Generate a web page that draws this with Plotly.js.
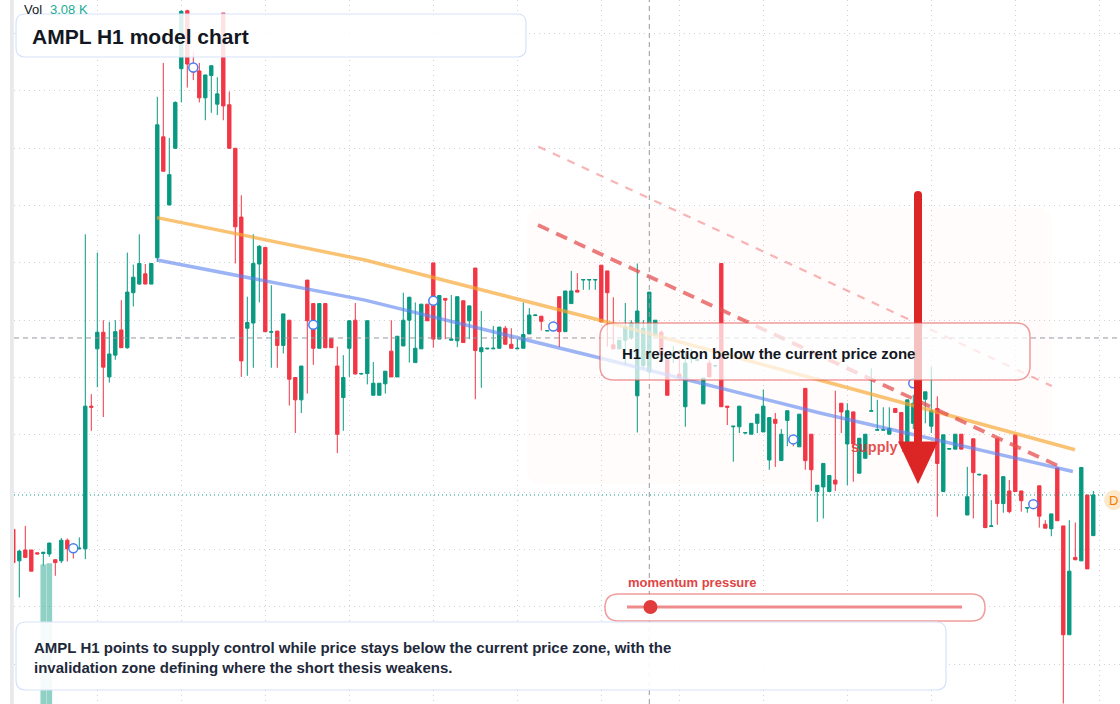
<!DOCTYPE html>
<html>
<head>
<meta charset="utf-8">
<script src="https://cdn.plot.ly/plotly-3.0.1.min.js"></script>
<style>
  html, body { margin: 0; padding: 0; background: #fff; }
  #chart { width: 1120px; height: 704px; }
</style>
</head>
<body>
<div id="chart"></div>
<script>
// AMPL H1 candles (price per bar)
var open = [
  1.2235,1.2180,1.2199,1.2199,1.2194,1.2193,1.2192,1.2182,1.2180,1.2216,
  1.2203,1.2201,1.2201,1.2450,1.2550,1.2579,1.2501,1.2539,1.2583,1.2552,
  1.2648,1.2663,1.2681,1.2663,1.2709,1.2920,1.2801,1.2900,1.3039,1.3140,
  1.3040,1.3035,1.2988,1.3027,1.2977,1.3136,1.2976,1.2900,1.2780,1.2586,
  1.2595,1.2698,1.2727,1.2579,1.2581,1.2556,1.2600,1.2500,1.2461,1.2670,
  1.2629,1.2551,1.2629,1.2568,1.2520,1.2465,1.2551,1.2600,1.2506,1.2507,
  1.2469,1.2469,1.2489,1.2546,1.2501,1.2555,1.2600,1.2526,1.2550,1.2628,
  1.2700,1.2567,1.2638,1.2565,1.2564,1.2634,1.2599,1.2691,1.2545,1.2550,
  1.2550,1.2551,1.2586,1.2558,1.2550,1.2551,1.2576,1.2608,1.2607,1.2581,
  1.2582,1.2641,1.2580,1.2629,1.2652,1.2670,1.2670,1.2670,1.2696,1.2686,
  1.2557,1.2550,1.2565,1.2569,1.2468,1.2521,1.2510,1.2574,1.2579,1.2531,
  1.2538,1.2506,1.2449,1.2533,1.2530,1.2454,1.2525,1.2520,1.2699,1.2450,
  1.2414,1.2414,1.2403,1.2401,1.2420,1.2405,1.2356,1.2427,1.2355,1.2425,
  1.2392,1.2379,1.2481,1.2401,1.2301,1.2309,1.2301,1.2321,1.2455,1.2384,
  1.2440,1.2333,1.2359,1.2441,1.2408,1.2408,1.2401,1.2446,1.2439,1.2385,
  1.2420,1.2455,1.2462,1.2415,1.2446,1.2301,1.2375,1.2375,1.2401,1.2260,
  1.2393,1.2330,1.2330,1.2240,1.2393,1.2280,1.2302,1.2400,1.2302,1.2272,
  1.2280,1.2311,1.2244,1.2236,1.2342,1.2241,1.2051,1.2186,1.2180,1.2295,
  1.2224
];
var high = [
  1.2236,1.2199,1.2241,1.2199,1.2195,1.2195,1.2212,1.2183,1.2220,1.2219,
  1.2205,1.2221,1.2750,1.2471,1.2718,1.2600,1.2597,1.2600,1.2635,1.2718,
  1.2697,1.2750,1.2698,1.2699,1.2990,1.3049,1.2918,1.2982,1.3141,1.3142,
  1.3069,1.3049,1.3028,1.3045,1.3024,1.3136,1.2999,1.2900,1.2818,1.2641,
  1.2750,1.2731,1.2728,1.2661,1.2581,1.2611,1.2600,1.2500,1.2520,1.2670,
  1.2630,1.2629,1.2629,1.2568,1.2554,1.2539,1.2600,1.2630,1.2508,1.2600,
  1.2527,1.2490,1.2511,1.2600,1.2572,1.2648,1.2641,1.2631,1.2628,1.2628,
  1.2700,1.2643,1.2638,1.2644,1.2641,1.2634,1.2625,1.2691,1.2616,1.2551,
  1.2590,1.2588,1.2590,1.2586,1.2567,1.2631,1.2621,1.2610,1.2607,1.2583,
  1.2584,1.2641,1.2651,1.2686,1.2682,1.2671,1.2671,1.2671,1.2696,1.2686,
  1.2640,1.2565,1.2630,1.2600,1.2699,1.2600,1.2649,1.2600,1.2582,1.2531,
  1.2555,1.2548,1.2545,1.2550,1.2533,1.2499,1.2530,1.2522,1.2699,1.2450,
  1.2415,1.2450,1.2405,1.2420,1.2436,1.2479,1.2431,1.2438,1.2410,1.2442,
  1.2395,1.2436,1.2481,1.2401,1.2312,1.2350,1.2329,1.2477,1.2455,1.2455,
  1.2440,1.2394,1.2401,1.2516,1.2461,1.2448,1.2448,1.2446,1.2439,1.2461,
  1.2470,1.2475,1.2475,1.2519,1.2467,1.2400,1.2376,1.2401,1.2401,1.2344,
  1.2393,1.2331,1.2330,1.2286,1.2393,1.2327,1.2321,1.2400,1.2302,1.2273,
  1.2281,1.2311,1.2251,1.2262,1.2342,1.2241,1.2251,1.2247,1.2343,1.2295,
  1.2302
];
var low = [
  1.2177,1.2116,1.2186,1.2162,1.2192,1.2172,1.2187,1.2154,1.2176,1.2179,
  1.2184,1.2201,1.2183,1.2407,1.2483,1.2431,1.2491,1.2531,1.2552,1.2550,
  1.2624,1.2662,1.2663,1.2663,1.2702,1.2860,1.2801,1.2899,1.2980,1.3006,
  1.3019,1.2980,1.2949,1.2962,1.2958,1.2949,1.2900,1.2699,1.2501,1.2503,
  1.2517,1.2631,1.2579,1.2517,1.2517,1.2542,1.2451,1.2403,1.2438,1.2472,
  1.2522,1.2551,1.2552,1.2552,1.2368,1.2407,1.2501,1.2506,1.2505,1.2488,
  1.2469,1.2469,1.2472,1.2501,1.2501,1.2555,1.2526,1.2526,1.2550,1.2599,
  1.2552,1.2567,1.2567,1.2565,1.2553,1.2561,1.2567,1.2462,1.2482,1.2549,
  1.2550,1.2551,1.2558,1.2551,1.2550,1.2551,1.2576,1.2608,1.2582,1.2581,
  1.2581,1.2553,1.2580,1.2629,1.2649,1.2653,1.2653,1.2653,1.2597,1.2554,
  1.2550,1.2550,1.2522,1.2566,1.2404,1.2515,1.2505,1.2574,1.2539,1.2469,
  1.2525,1.2499,1.2414,1.2525,1.2529,1.2454,1.2501,1.2518,1.2449,1.2417,
  1.2353,1.2403,1.2401,1.2401,1.2403,1.2405,1.2339,1.2344,1.2355,1.2380,
  1.2380,1.2379,1.2339,1.2302,1.2248,1.2254,1.2301,1.2302,1.2403,1.2312,
  1.2318,1.2333,1.2359,1.2441,1.2407,1.2408,1.2401,1.2439,1.2385,1.2385,
  1.2410,1.2420,1.2420,1.2403,1.2257,1.2300,1.2374,1.2375,1.2375,1.2260,
  1.2254,1.2329,1.2238,1.2239,1.2243,1.2264,1.2263,1.2301,1.2266,1.2264,
  1.2279,1.2238,1.2237,1.2223,1.2250,1.1931,1.2051,1.2181,1.2180,1.2166,
  1.2224
];
var close = [
  1.2177,1.2197,1.2186,1.2162,1.2192,1.2195,1.2211,1.2177,1.2216,1.2201,
  1.2202,1.2202,1.2450,1.2448,1.2579,1.2518,1.2541,1.2580,1.2552,1.2649,
  1.2675,1.2699,1.2663,1.2699,1.2941,1.2860,1.2854,1.2980,1.3139,1.3047,
  1.3033,1.2988,1.3028,1.3044,1.2995,1.2974,1.2900,1.2763,1.2529,1.2596,
  1.2699,1.2729,1.2580,1.2580,1.2556,1.2611,1.2497,1.2461,1.2520,1.2599,
  1.2551,1.2629,1.2552,1.2552,1.2401,1.2500,1.2599,1.2506,1.2507,1.2599,
  1.2490,1.2490,1.2511,1.2501,1.2572,1.2600,1.2640,1.2551,1.2628,1.2599,
  1.2567,1.2643,1.2635,1.2567,1.2641,1.2561,1.2625,1.2547,1.2552,1.2551,
  1.2551,1.2588,1.2558,1.2551,1.2551,1.2575,1.2609,1.2609,1.2598,1.2582,
  1.2583,1.2580,1.2651,1.2651,1.2649,1.2671,1.2671,1.2671,1.2597,1.2648,
  1.2550,1.2565,1.2588,1.2595,1.2616,1.2586,1.2649,1.2600,1.2539,1.2469,
  1.2540,1.2499,1.2525,1.2535,1.2531,1.2499,1.2501,1.2521,1.2449,1.2448,
  1.2415,1.2450,1.2404,1.2420,1.2436,1.2450,1.2430,1.2420,1.2401,1.2442,
  1.2385,1.2436,1.2355,1.2339,1.2312,1.2350,1.2329,1.2314,1.2440,1.2442,
  1.2384,1.2394,1.2401,1.2442,1.2409,1.2409,1.2411,1.2439,1.2385,1.2461,
  1.2455,1.2440,1.2475,1.2442,1.2350,1.2400,1.2376,1.2401,1.2375,1.2292,
  1.2334,1.2331,1.2238,1.2241,1.2280,1.2327,1.2266,1.2301,1.2285,1.2273,
  1.2281,1.2258,1.2237,1.2262,1.2250,1.2051,1.2162,1.2182,1.2343,1.2166,
  1.2295
];

// volume (K) – only these bars reach into view
var volBar = [5, 6];
var volK = [3.05, 3.08];

// trend lines (bar index, price)
var supplyBar = [23.95, 58.6, 97.8, 134.45, 176.95];
var supplyPx  = [1.2779, 1.2705, 1.2600, 1.2496, 1.2374];
var meanBar   = [23.95, 58.6, 97.8, 134.45, 176.6];
var meanPx    = [1.2705, 1.2635, 1.2534, 1.2438, 1.2336];
var rejBar    = [87.45, 174.1];
var rejPx     = [1.2766, 1.2346];
var outerBar  = [87.5, 173.1];
var outerPx   = [1.2903, 1.2485];

// model check points
var markBar = [10, 30, 50, 70, 90, 130, 150, 170];
var markPx  = [1.2202, 1.3041, 1.2592, 1.2634, 1.2589, 1.2392, 1.2490, 1.2279];

var gridBars = [14, 28, 42, 56, 70, 84, 98, 111, 125, 139, 153, 167, 181];
var gridPx   = [1.20, 1.21, 1.22, 1.23, 1.24, 1.25, 1.26, 1.27, 1.28, 1.29, 1.30, 1.31];
var crossBar = 106, crossPx = 1.2569;
var momentum = 0.07;

var bars = open.map(function (_, i) { return i; });
var lastClose = close[close.length - 1];

// pixel helpers for the overlay cards (plot area = x 14..1120, y 0..704)
function X(px) { return (px - 14) / 1106; }
function Y(py) { return 1 - py / 704; }
function rr(x0, y0, x1, y1, r) {
  return 'M' + X(x0 + r) + ',' + Y(y0) + ' L' + X(x1 - r) + ',' + Y(y0) +
    ' Q' + X(x1) + ',' + Y(y0) + ' ' + X(x1) + ',' + Y(y0 + r) +
    ' L' + X(x1) + ',' + Y(y1 - r) +
    ' Q' + X(x1) + ',' + Y(y1) + ' ' + X(x1 - r) + ',' + Y(y1) +
    ' L' + X(x0 + r) + ',' + Y(y1) +
    ' Q' + X(x0) + ',' + Y(y1) + ' ' + X(x0) + ',' + Y(y1 - r) +
    ' L' + X(x0) + ',' + Y(y0 + r) +
    ' Q' + X(x0) + ',' + Y(y0) + ' ' + X(x0 + r) + ',' + Y(y0) + ' Z';
}

var font = 'Liberation Sans, Arial, sans-serif';
var green = '#089981', red = '#f23645';

var data = [
  {
    type: 'bar', x: volBar, y: volK, yaxis: 'y2', width: 0.95,
    marker: { color: 'rgba(8,153,129,0.45)' }, hoverinfo: 'skip'
  },
  {
    type: 'candlestick', x: bars, open: open, high: high, low: low, close: close,
    increasing: { line: { color: green, width: 1 }, fillcolor: green },
    decreasing: { line: { color: red, width: 1 }, fillcolor: red },
    whiskerwidth: 0
  },
  {
    type: 'scatter', mode: 'lines', x: supplyBar, y: supplyPx,
    line: { color: 'rgba(247,166,50,0.68)', width: 3.5 }
  },
  {
    type: 'scatter', mode: 'lines', x: meanBar, y: meanPx,
    line: { color: 'rgba(90,130,240,0.6)', width: 3.5 }
  },
  {
    type: 'scatter', mode: 'lines', x: outerBar, y: outerPx,
    line: { color: 'rgba(240,120,120,0.55)', width: 2.2, dash: '8px,8px' }
  },
  {
    type: 'scatter', mode: 'lines', x: rejBar, y: rejPx,
    line: { color: 'rgba(230,80,80,0.75)', width: 3.8, dash: '12px,8px' }
  },
  {
    type: 'scatter', mode: 'markers', x: markBar, y: markPx,
    marker: { symbol: 'circle', size: 9, color: '#ffffff', line: { color: '#4a7ef0', width: 1.5 } }
  },
  {
    type: 'scatter', mode: 'text', x: [139.6], y: [1.2377], text: ['supply zone'],
    textposition: 'middle right',
    textfont: { family: font, size: 14.5, color: 'rgba(222,50,50,0.85)', weight: 700 }
  }
];

var shapes = [
  { type: 'path', xref: 'paper', yref: 'paper', layer: 'below', path: rr(527, 208, 1052, 484, 16),
    fillcolor: 'rgba(240,160,120,0.028)', line: { width: 0 } },
  { type: 'line', xref: 'paper', yref: 'y', x0: 0, x1: 1, y0: crossPx, y1: crossPx, layer: 'above',
    line: { color: '#9598a1', width: 1, dash: '5px,4px' } },
  { type: 'line', xref: 'x', yref: 'paper', x0: crossBar, x1: crossBar, y0: 0, y1: 1, layer: 'above',
    line: { color: '#9598a1', width: 1, dash: '5px,4px' } },
  { type: 'line', xref: 'paper', yref: 'y', x0: 0, x1: 1, y0: lastClose, y1: lastClose, layer: 'above',
    line: { color: green, width: 1, dash: '1px,3px' } },
  // red arrow
  { type: 'line', xref: 'paper', yref: 'paper', x0: X(918), x1: X(918), y0: Y(195), y1: Y(446), layer: 'above',
    line: { color: '#dc2626', width: 8 } },
  { type: 'circle', xref: 'paper', yref: 'paper', layer: 'above', x0: X(914), x1: X(922), y0: Y(191), y1: Y(199),
    fillcolor: '#dc2626', line: { width: 0 } },
  { type: 'path', xref: 'paper', yref: 'paper', layer: 'above',
    path: 'M' + X(898) + ',' + Y(441.5) + ' L' + X(938) + ',' + Y(441.5) + ' L' + X(918) + ',' + Y(484) + ' Z',
    fillcolor: '#dc2626', line: { width: 0 } },
  // callout
  { type: 'path', xref: 'paper', yref: 'paper', layer: 'above', path: rr(600, 323, 1030, 380, 14),
    fillcolor: 'rgba(255,255,255,0.72)', line: { color: 'rgba(232,90,90,0.6)', width: 1.5 } },
  // title card
  { type: 'path', xref: 'paper', yref: 'paper', layer: 'above', path: rr(16, 14, 526, 57, 9),
    fillcolor: 'rgba(255,255,255,0.86)', line: { color: '#d5e3fa', width: 1.2 } },
  // momentum panel
  { type: 'path', xref: 'paper', yref: 'paper', layer: 'above', path: rr(605, 594, 985, 621, 13.5),
    fillcolor: 'rgba(255,255,255,0.9)', line: { color: 'rgba(232,90,90,0.6)', width: 1.5 } },
  { type: 'line', xref: 'paper', yref: 'paper', x0: X(627), x1: X(962), y0: Y(607), y1: Y(607), layer: 'above',
    line: { color: 'rgba(232,100,100,0.75)', width: 3 } },
  { type: 'circle', xref: 'paper', yref: 'paper', layer: 'above',
    x0: X(627 + momentum * 335 - 7), x1: X(627 + momentum * 335 + 7), y0: Y(600), y1: Y(614),
    fillcolor: '#e23b3b', line: { width: 0 } },
  // bottom card
  { type: 'path', xref: 'paper', yref: 'paper', layer: 'above', path: rr(16, 622, 946, 690, 10),
    fillcolor: 'rgba(255,255,255,0.9)', line: { color: '#d5e3fa', width: 1.2 } },
  // left strip and D badge
  { type: 'rect', xref: 'paper', yref: 'paper', layer: 'above', x0: X(10), x1: X(13.8), y0: 0, y1: 1,
    fillcolor: '#e9e9ec', line: { width: 0 } },
  { type: 'circle', xref: 'paper', yref: 'paper', layer: 'above', x0: X(1104), x1: X(1124), y0: Y(490), y1: Y(510),
    fillcolor: '#fde8cc', line: { width: 0 } }
];

var annotations = [
  { xref: 'paper', yref: 'paper', x: X(22), y: Y(9), xanchor: 'left', yanchor: 'middle', showarrow: false,
    text: 'Vol', font: { family: font, size: 13, color: '#131722' } },
  { xref: 'paper', yref: 'paper', x: X(48), y: Y(9), xanchor: 'left', yanchor: 'middle', showarrow: false,
    text: volK[1].toFixed(2) + ' K', font: { family: font, size: 13, color: '#22ab94' } },
  { xref: 'paper', yref: 'paper', x: X(30), y: Y(36), xanchor: 'left', yanchor: 'middle', showarrow: false,
    text: '<b>AMPL H1 model chart</b>', font: { family: font, size: 21, color: '#131722' } },
  { xref: 'paper', yref: 'paper', x: X(620), y: Y(353), xanchor: 'left', yanchor: 'middle', showarrow: false,
    text: '<b>H1 rejection below the current price zone</b>', font: { family: font, size: 15, color: '#131722' } },
  { xref: 'paper', yref: 'paper', x: X(626), y: Y(582), xanchor: 'left', yanchor: 'middle', showarrow: false,
    text: '<b>momentum pressure</b>', font: { family: font, size: 13, color: '#e04545' } },
  { xref: 'paper', yref: 'paper', x: X(32), y: Y(647), xanchor: 'left', yanchor: 'middle', showarrow: false,
    text: '<b>AMPL H1 points to supply control while price stays below the current price zone, with the</b>',
    font: { family: font, size: 15, color: '#1e293b' } },
  { xref: 'paper', yref: 'paper', x: X(32), y: Y(667), xanchor: 'left', yanchor: 'middle', showarrow: false,
    text: '<b>invalidation zone defining where the short thesis weakens.</b>',
    font: { family: font, size: 15, color: '#1e293b' } },
  { xref: 'paper', yref: 'paper', x: X(1107), y: Y(500), xanchor: 'left', yanchor: 'middle', showarrow: false,
    text: 'D', font: { family: font, size: 13, color: '#f57c00' } }
];

var layout = {
  width: 1120, height: 704,
  margin: { l: 14, r: 0, t: 0, b: 0 },
  paper_bgcolor: '#ffffff', plot_bgcolor: '#ffffff',
  showlegend: false,
  boxgap: 0.2,
  xaxis: {
    type: 'linear', range: [0.117, 184.45], rangeslider: { visible: false },
    tickmode: 'array', tickvals: gridBars, showticklabels: false, ticks: '',
    showgrid: true, gridcolor: '#cdd1d9', griddash: '1px,4px', gridwidth: 1, zeroline: false, showline: false
  },
  yaxis: {
    range: [1.19302, 1.31588], tickmode: 'array', tickvals: gridPx, showticklabels: false, ticks: '',
    showgrid: true, gridcolor: '#cdd1d9', griddash: '1px,4px', gridwidth: 1, zeroline: false, showline: false
  },
  yaxis2: { overlaying: 'y', range: [0, 15.4], visible: false, showgrid: false },
  shapes: shapes,
  annotations: annotations
};

Plotly.newPlot('chart', data, layout, { displayModeBar: false, staticPlot: true });
</script>
</body>
</html>
